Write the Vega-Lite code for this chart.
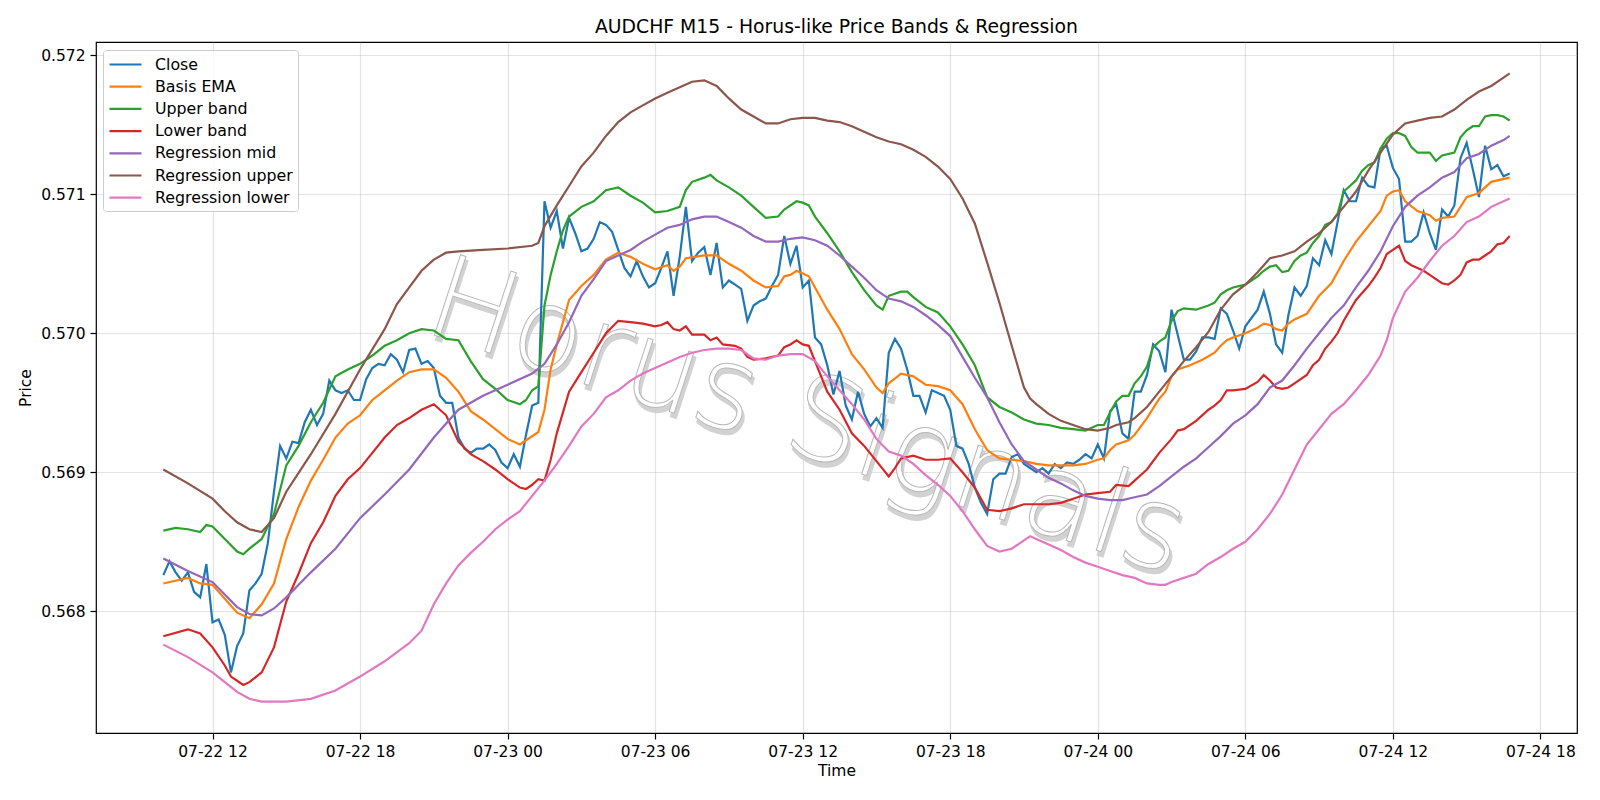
{
"$schema": "https://vega.github.io/schema/vega-lite/v6.json",
"width": 1481, "height": 691,
"autosize": {"type": "none"},
"padding": {"left": 96, "top": 42, "right": 23, "bottom": 67},
"background": "white",
"title": {"text": "AUDCHF M15 - Horus-like Price Bands & Regression", "fontSize": 18.8, "fontWeight": "normal", "font": "DejaVu Sans", "color": "black", "offset": 5},
"config": {
 "font": "DejaVu Sans",
 "view": {"stroke": "black", "strokeWidth": 1.2},
 "axis": {"domain": false, "labelFont": "DejaVu Sans", "labelFontSize": 15.5, "labelColor": "black", "titleFont": "DejaVu Sans", "titleFontSize": 15.5, "titleFontWeight": "normal", "titleColor": "black", "tickColor": "black", "tickSize": 6, "tickWidth": 1.2, "labelPadding": 5, "gridColor": "#b0b0b0", "gridOpacity": 0.35, "gridWidth": 1.2},
 "legend": {"labelFont": "DejaVu Sans", "labelFontSize": 15.8, "labelColor": "black"}
},
"encoding": {
 "x": {"field": "t", "type": "temporal", "title": "Time",
  "scale": {"domain": [{"year": 2025, "month": 7, "date": 22, "hours": 7, "minutes": 15, "seconds": 45}, {"year": 2025, "month": 7, "date": 24, "hours": 19, "minutes": 29, "seconds": 15}]},
  "axis": {"format": "%m-%d %H", "values": [
   {"year": 2025, "month": 7, "date": 22, "hours": 12}, {"year": 2025, "month": 7, "date": 22, "hours": 18},
   {"year": 2025, "month": 7, "date": 23, "hours": 0}, {"year": 2025, "month": 7, "date": 23, "hours": 6},
   {"year": 2025, "month": 7, "date": 23, "hours": 12}, {"year": 2025, "month": 7, "date": 23, "hours": 18},
   {"year": 2025, "month": 7, "date": 24, "hours": 0}, {"year": 2025, "month": 7, "date": 24, "hours": 6},
   {"year": 2025, "month": 7, "date": 24, "hours": 12}, {"year": 2025, "month": 7, "date": 24, "hours": 18}],
   "labelAngle": 0, "labelFlush": false, "labelOverlap": false, "titlePadding": 4}},
 "y": {"field": "v", "type": "quantitative", "title": "Price",
  "scale": {"domain": [0.567124, 0.572096], "zero": false, "nice": false},
  "axis": {"values": [0.568, 0.569, 0.570, 0.571, 0.572], "format": ".3f", "titlePadding": 7}}
},
"layer": [
 {"data": {"values": [{"t": "2025-07-23T12:11", "v": 0.56938, "s": "Horus Signals"}]},
  "mark": {"type": "text", "angle": 18, "fontSize": 116, "font": "DejaVu Sans", "fontWeight": 200, "fill": "#d2d2d2", "stroke": "#d2d2d2", "strokeWidth": 2, "dx": 3, "dy": 4, "align": "center", "baseline": "middle"},
  "encoding": {"text": {"field": "s"}}},
 {"data": {"values": [{"t": "2025-07-23T12:11", "v": 0.56938, "s": "Horus Signals"}]},
  "mark": {"type": "text", "angle": 18, "fontSize": 116, "font": "DejaVu Sans", "fontWeight": 200, "fill": "white", "stroke": "#b8b8b8", "strokeWidth": 1, "align": "center", "baseline": "middle"},
  "encoding": {"text": {"field": "s"}}},
 {"data": {"values": [
{"t":"2025-07-22T10:00","close":0.56826,"ema":0.56820,"up":0.56858,"low":0.56782,"rmid":0.56838,"rup":0.56902,"rlow":0.56776},
{"t":"2025-07-22T10:15","close":0.56836},
{"t":"2025-07-22T10:30","close":0.56828,"up":0.56860},
{"t":"2025-07-22T10:45","close":0.56822},
{"t":"2025-07-22T11:00","close":0.56828,"ema":0.56824,"up":0.56859,"low":0.56787,"rmid":0.56829,"rup":0.56892,"rlow":0.56767},
{"t":"2025-07-22T11:15","close":0.56814},
{"t":"2025-07-22T11:30","close":0.56810,"ema":0.56820,"up":0.56857,"low":0.56784},
{"t":"2025-07-22T11:45","close":0.56834,"up":0.56862},
{"t":"2025-07-22T12:00","close":0.56792,"ema":0.56819,"up":0.56861,"low":0.56774,"rmid":0.56821,"rup":0.56881,"rlow":0.56756},
{"t":"2025-07-22T12:15","close":0.56794},
{"t":"2025-07-22T12:30","close":0.56783,"ema":0.56809,"up":0.56852,"low":0.56761,"rmid":0.56812,"rup":0.56872,"rlow":0.56749},
{"t":"2025-07-22T12:45","close":0.56756,"low":0.56753},
{"t":"2025-07-22T13:00","close":0.56775,"ema":0.56799,"up":0.56843,"low":0.56750,"rmid":0.56803,"rup":0.56864,"rlow":0.56742},
{"t":"2025-07-22T13:15","close":0.56784,"up":0.56841,"low":0.56747},
{"t":"2025-07-22T13:30","close":0.56815,"ema":0.56795,"up":0.56845,"low":0.56749,"rmid":0.56798,"rup":0.56859,"rlow":0.56737},
{"t":"2025-07-22T13:45","close":0.56820},
{"t":"2025-07-22T14:00","close":0.56827,"ema":0.56805,"up":0.56852,"low":0.56756,"rmid":0.56797,"rup":0.56857,"rlow":0.56735},
{"t":"2025-07-22T14:15","close":0.56849},
{"t":"2025-07-22T14:30","close":0.56886,"ema":0.56820,"up":0.56870,"low":0.56774,"rmid":0.56802,"rup":0.56867},
{"t":"2025-07-22T14:45","close":0.56919},
{"t":"2025-07-22T15:00","close":0.56910,"ema":0.56852,"up":0.56905,"low":0.56807,"rmid":0.56810,"rup":0.56886,"rlow":0.56735},
{"t":"2025-07-22T15:15","close":0.56922},
{"t":"2025-07-22T15:30","close":0.56921,"ema":0.56875,"up":0.56919,"low":0.56827},
{"t":"2025-07-22T15:45","close":0.56936},
{"t":"2025-07-22T16:00","close":0.56945,"ema":0.56894,"up":0.56936,"low":0.56849,"rmid":0.56828,"rup":0.56913,"rlow":0.56737},
{"t":"2025-07-22T16:15","close":0.56934},
{"t":"2025-07-22T16:30","close":0.56942,"ema":0.56909,"up":0.56950,"low":0.56864},
{"t":"2025-07-22T16:45","close":0.56966},
{"t":"2025-07-22T17:00","close":0.56959,"ema":0.56925,"up":0.56969,"low":0.56883,"rmid":0.56845,"rup":0.56942,"rlow":0.56743},
{"t":"2025-07-22T17:15","close":0.56957},
{"t":"2025-07-22T17:30","close":0.56959,"ema":0.56935,"up":0.56974,"low":0.56895},
{"t":"2025-07-22T17:45","close":0.56952},
{"t":"2025-07-22T18:00","close":0.56952,"ema":0.56941,"up":0.56978,"low":0.56903,"rmid":0.56867,"rup":0.56974,"rlow":0.56753},
{"t":"2025-07-22T18:15","close":0.56967},
{"t":"2025-07-22T18:30","close":0.56975,"ema":0.56952,"up":0.56984,"low":0.56914},
{"t":"2025-07-22T18:45","close":0.56978},
{"t":"2025-07-22T19:00","close":0.56977,"ema":0.56959,"up":0.56991,"low":0.56925,"rmid":0.56884,"rup":0.57003,"rlow":0.56764},
{"t":"2025-07-22T19:15","close":0.56985},
{"t":"2025-07-22T19:30","close":0.56981,"ema":0.56966,"up":0.56995,"low":0.56934,"rup":0.57021},
{"t":"2025-07-22T19:45","close":0.56972},
{"t":"2025-07-22T20:00","close":0.56988,"ema":0.56972,"up":0.57000,"low":0.56939,"rmid":0.56902,"rup":0.57033,"rlow":0.56777},
{"t":"2025-07-22T20:15","close":0.56989},
{"t":"2025-07-22T20:30","close":0.56978,"ema":0.56974,"up":0.57003,"low":0.56945,"rup":0.57045,"rlow":0.56786},
{"t":"2025-07-22T20:45","close":0.56980},
{"t":"2025-07-22T21:00","close":0.56975,"ema":0.56974,"up":0.57002,"low":0.56949,"rmid":0.56925,"rup":0.57053,"rlow":0.56805},
{"t":"2025-07-22T21:15","close":0.56955},
{"t":"2025-07-22T21:30","close":0.56950,"ema":0.56968,"up":0.56996,"low":0.56941,"rup":0.57058,"rlow":0.56820},
{"t":"2025-07-22T21:45","close":0.56950},
{"t":"2025-07-22T22:00","close":0.56925,"ema":0.56958,"up":0.56995,"low":0.56922,"rmid":0.56945,"rup":0.57059,"rlow":0.56833},
{"t":"2025-07-22T22:15","close":0.56917},
{"t":"2025-07-22T22:30","close":0.56914,"ema":0.56944,"up":0.56980,"low":0.56913,"rlow":0.56842},
{"t":"2025-07-22T22:45","close":0.56917},
{"t":"2025-07-22T23:00","close":0.56917,"ema":0.56938,"up":0.56967,"low":0.56908,"rmid":0.56955,"rup":0.57060,"rlow":0.56850},
{"t":"2025-07-22T23:15","close":0.56920},
{"t":"2025-07-22T23:30","close":0.56916,"ema":0.56931,"up":0.56960,"low":0.56902,"rlow":0.56859},
{"t":"2025-07-22T23:45","close":0.56907},
{"t":"2025-07-23T00:00","close":0.56903,"ema":0.56924,"up":0.56952,"low":0.56895,"rmid":0.56963,"rup":0.57061,"rlow":0.56866},
{"t":"2025-07-23T00:15","close":0.56913},
{"t":"2025-07-23T00:30","close":0.56904,"ema":0.56920,"up":0.56949,"low":0.56889,"rlow":0.56872},
{"t":"2025-07-23T00:45","close":0.56927,"up":0.56952,"low":0.56888},
{"t":"2025-07-23T01:00","close":0.56948,"up":0.56959,"low":0.56891,"rmid":0.56971,"rup":0.57063,"rlow":0.56883},
{"t":"2025-07-23T01:15","close":0.56950,"ema":0.56929,"up":0.56962,"low":0.56895,"rup":0.57065},
{"t":"2025-07-23T01:30","close":0.57095,"ema":0.56945,"up":0.57020,"low":0.56894,"rmid":0.56978,"rup":0.57077,"rlow":0.56894},
{"t":"2025-07-23T01:45","close":0.57076,"ema":0.56974,"up":0.57042,"low":0.56909},
{"t":"2025-07-23T02:00","close":0.57088,"ema":0.56992,"up":0.57059,"low":0.56928,"rmid":0.56992,"rup":0.57092,"rlow":0.56906},
{"t":"2025-07-23T02:15","close":0.57061,"ema":0.57008,"up":0.57074},
{"t":"2025-07-23T02:30","close":0.57083,"ema":0.57024,"up":0.57084,"low":0.56958,"rmid":0.57008,"rup":0.57106,"rlow":0.56919},
{"t":"2025-07-23T02:45","close":0.57072},
{"t":"2025-07-23T03:00","close":0.57059,"ema":0.57034,"up":0.57091,"low":0.56972,"rmid":0.57027,"rup":0.57120,"rlow":0.56933},
{"t":"2025-07-23T03:15","close":0.57061},
{"t":"2025-07-23T03:30","close":0.57068,"ema":0.57042,"up":0.57095,"low":0.56986,"rmid":0.57039,"rup":0.57130,"rlow":0.56942},
{"t":"2025-07-23T03:45","close":0.57080},
{"t":"2025-07-23T04:00","close":0.57078,"ema":0.57053,"up":0.57103,"low":0.57000,"rmid":0.57052,"rup":0.57142,"rlow":0.56954},
{"t":"2025-07-23T04:15","close":0.57073},
{"t":"2025-07-23T04:30","close":0.57060,"ema":0.57058,"up":0.57105,"low":0.57009,"rmid":0.57056,"rup":0.57152,"rlow":0.56959},
{"t":"2025-07-23T04:45","close":0.57047},
{"t":"2025-07-23T05:00","close":0.57041,"ema":0.57055,"up":0.57099,"low":0.57008,"rmid":0.57060,"rup":0.57159,"rlow":0.56966},
{"t":"2025-07-23T05:15","close":0.57052},
{"t":"2025-07-23T05:30","close":0.57041,"ema":0.57050,"up":0.57094,"low":0.57007,"rmid":0.57066,"rup":0.57164,"rlow":0.56971},
{"t":"2025-07-23T05:45","close":0.57033},
{"t":"2025-07-23T06:00","close":0.57036,"ema":0.57046,"up":0.57087,"low":0.57005,"rmid":0.57071,"rup":0.57169,"rlow":0.56975},
{"t":"2025-07-23T06:15","close":0.57047,"low":0.57006},
{"t":"2025-07-23T06:30","close":0.57059,"ema":0.57049,"up":0.57088,"low":0.57008,"rmid":0.57076,"rup":0.57173,"rlow":0.56979},
{"t":"2025-07-23T06:45","close":0.57027,"ema":0.57045,"low":0.57003},
{"t":"2025-07-23T07:00","close":0.57055,"ema":0.57048,"up":0.57091,"low":0.57002,"rmid":0.57078,"rup":0.57177,"rlow":0.56983},
{"t":"2025-07-23T07:15","close":0.57091,"ema":0.57054,"up":0.57103,"low":0.57005},
{"t":"2025-07-23T07:30","close":0.57052,"up":0.57109,"low":0.56999,"rmid":0.57082,"rup":0.57181,"rlow":0.56986},
{"t":"2025-07-23T07:45","close":0.57058},
{"t":"2025-07-23T08:00","close":0.57062,"ema":0.57056,"up":0.57112,"low":0.56999,"rmid":0.57084,"rup":0.57182,"rlow":0.56988},
{"t":"2025-07-23T08:15","close":0.57042,"up":0.57114,"low":0.56995},
{"t":"2025-07-23T08:30","close":0.57065,"ema":0.57056,"up":0.57110,"low":0.56997,"rmid":0.57084,"rup":0.57178,"rlow":0.56989},
{"t":"2025-07-23T08:45","close":0.57033,"low":0.56992},
{"t":"2025-07-23T09:00","close":0.57038,"ema":0.57050,"up":0.57105,"rmid":0.57080,"rup":0.57169,"rlow":0.56989},
{"t":"2025-07-23T09:15","close":0.57035,"low":0.56991},
{"t":"2025-07-23T09:30","close":0.57032,"ema":0.57045,"up":0.57099,"low":0.56989,"rmid":0.57076,"rup":0.57161,"rlow":0.56988},
{"t":"2025-07-23T09:45","close":0.57009,"low":0.56983},
{"t":"2025-07-23T10:00","close":0.57020,"ema":0.57038,"up":0.57091,"low":0.56981,"rmid":0.57070,"rup":0.57156,"rlow":0.56982},
{"t":"2025-07-23T10:15","close":0.57023},
{"t":"2025-07-23T10:30","close":0.57025,"ema":0.57033,"up":0.57083,"low":0.56982,"rmid":0.57066,"rup":0.57151,"rlow":0.56981},
{"t":"2025-07-23T10:45","close":0.57034},
{"t":"2025-07-23T11:00","close":0.57042,"ema":0.57034,"up":0.57084,"low":0.56984,"rmid":0.57066,"rup":0.57151,"rlow":0.56984},
{"t":"2025-07-23T11:15","close":0.57070,"ema":0.57041,"up":0.57089,"low":0.56990},
{"t":"2025-07-23T11:30","close":0.57050,"ema":0.57042,"low":0.56992,"rmid":0.57068,"rup":0.57154,"rlow":0.56985},
{"t":"2025-07-23T11:45","close":0.57063,"ema":0.57045,"up":0.57095,"low":0.56995},
{"t":"2025-07-23T12:00","close":0.57033,"ema":0.57043,"up":0.57094,"low":0.56992,"rmid":0.57069,"rup":0.57155,"rlow":0.56985},
{"t":"2025-07-23T12:15","close":0.57038,"ema":0.57041,"up":0.57092,"low":0.56991},
{"t":"2025-07-23T12:30","close":0.56997,"ema":0.57033,"up":0.57084,"low":0.56980,"rmid":0.57067,"rup":0.57155,"rlow":0.56980},
{"t":"2025-07-23T12:45","close":0.56992},
{"t":"2025-07-23T13:00","close":0.56977,"ema":0.57017,"up":0.57072,"low":0.56958,"rmid":0.57063,"rup":0.57153,"rlow":0.56969},
{"t":"2025-07-23T13:15","close":0.56956},
{"t":"2025-07-23T13:30","close":0.56973,"ema":0.57003,"up":0.57059,"low":0.56945,"rmid":0.57056,"rup":0.57152,"rlow":0.56959},
{"t":"2025-07-23T13:45","close":0.56948},
{"t":"2025-07-23T14:00","close":0.56938,"ema":0.56985,"up":0.57044,"low":0.56928,"rmid":0.57048,"rup":0.57149,"rlow":0.56949},
{"t":"2025-07-23T14:15","close":0.56958},
{"t":"2025-07-23T14:30","close":0.56942,"ema":0.56974,"up":0.57031,"low":0.56919,"rmid":0.57040,"rup":0.57145,"rlow":0.56938},
{"t":"2025-07-23T14:45","close":0.56933},
{"t":"2025-07-23T15:00","close":0.56939,"ema":0.56961,"up":0.57020,"low":0.56908,"rmid":0.57031,"rup":0.57141,"rlow":0.56924},
{"t":"2025-07-23T15:15","close":0.56932,"ema":0.56957,"up":0.57017},
{"t":"2025-07-23T15:30","close":0.56986,"ema":0.56964,"up":0.57027,"low":0.56897,"rmid":0.57025,"rup":0.57138,"rlow":0.56915},
{"t":"2025-07-23T15:45","close":0.56996,"low":0.56903},
{"t":"2025-07-23T16:00","close":0.56989,"ema":0.56971,"up":0.57030,"low":0.56910,"rmid":0.57023,"rup":0.57136,"rlow":0.56912},
{"t":"2025-07-23T16:15","close":0.56974,"up":0.57030},
{"t":"2025-07-23T16:30","close":0.56955,"ema":0.56969,"up":0.57026,"low":0.56912,"rmid":0.57019,"rup":0.57132,"rlow":0.56906},
{"t":"2025-07-23T16:45","close":0.56955},
{"t":"2025-07-23T17:00","close":0.56943,"ema":0.56963,"up":0.57019,"low":0.56909,"rmid":0.57013,"rup":0.57127,"rlow":0.56898},
{"t":"2025-07-23T17:15","close":0.56959},
{"t":"2025-07-23T17:30","close":0.56957,"ema":0.56962,"up":0.57015,"low":0.56909,"rmid":0.57006,"rup":0.57120,"rlow":0.56891},
{"t":"2025-07-23T17:45","close":0.56955},
{"t":"2025-07-23T18:00","close":0.56945,"ema":0.56959,"up":0.57005,"low":0.56910,"rmid":0.56998,"rup":0.57111,"rlow":0.56883},
{"t":"2025-07-23T18:15","close":0.56919},
{"t":"2025-07-23T18:30","close":0.56917,"ema":0.56949,"up":0.56992,"low":0.56900,"rmid":0.56983,"rup":0.57097,"rlow":0.56872},
{"t":"2025-07-23T18:45","close":0.56906},
{"t":"2025-07-23T19:00","close":0.56889,"ema":0.56931,"up":0.56977,"low":0.56889,"rmid":0.56968,"rup":0.57079,"rlow":0.56859},
{"t":"2025-07-23T19:15","close":0.56878},
{"t":"2025-07-23T19:30","close":0.56870,"ema":0.56916,"up":0.56954,"low":0.56873,"rmid":0.56954,"rup":0.57051,"rlow":0.56847},
{"t":"2025-07-23T19:45","close":0.56895},
{"t":"2025-07-23T20:00","close":0.56899,"ema":0.56910,"up":0.56947,"low":0.56872,"rmid":0.56936,"rup":0.57022,"rlow":0.56843},
{"t":"2025-07-23T20:15","close":0.56899},
{"t":"2025-07-23T20:30","close":0.56911,"ema":0.56909,"up":0.56943,"low":0.56874,"rmid":0.56920,"rup":0.56991,"rlow":0.56845},
{"t":"2025-07-23T20:45","close":0.56913},
{"t":"2025-07-23T21:00","close":0.56906,"ema":0.56908,"up":0.56938,"low":0.56877,"rmid":0.56908,"rup":0.56961,"rlow":0.56851},
{"t":"2025-07-23T21:15","close":0.56903,"rup":0.56953,"rlow":0.56854},
{"t":"2025-07-23T21:30","close":0.56900,"ema":0.56906,"up":0.56935,"low":0.56877,"rmid":0.56902,"rup":0.56949,"rlow":0.56852},
{"t":"2025-07-23T21:45","close":0.56903},
{"t":"2025-07-23T22:00","close":0.56899,"ema":0.56905,"up":0.56934,"low":0.56877,"rmid":0.56896,"rup":0.56942,"rlow":0.56848},
{"t":"2025-07-23T22:15","close":0.56906},
{"t":"2025-07-23T22:30","close":0.56903,"ema":0.56905,"up":0.56932,"low":0.56878,"rmid":0.56892,"rup":0.56937,"rlow":0.56844},
{"t":"2025-07-23T22:45","close":0.56907},
{"t":"2025-07-23T23:00","close":0.56906,"ema":0.56905,"up":0.56931,"low":0.56881,"rmid":0.56887,"rup":0.56934,"rlow":0.56839},
{"t":"2025-07-23T23:15","close":0.56909},
{"t":"2025-07-23T23:30","close":0.56913,"ema":0.56906,"up":0.56930,"low":0.56884,"rmid":0.56883,"rup":0.56931,"rlow":0.56835},
{"t":"2025-07-23T23:45","close":0.56910},
{"t":"2025-07-24T00:00","close":0.56920,"ema":0.56909,"up":0.56934,"low":0.56885,"rmid":0.56881,"rup":0.56930,"rlow":0.56832},
{"t":"2025-07-24T00:15","close":0.56910,"ema":0.56910,"up":0.56934},
{"t":"2025-07-24T00:30","close":0.56944,"ema":0.56916,"up":0.56943,"low":0.56886,"rmid":0.56880,"rup":0.56932,"rlow":0.56829},
{"t":"2025-07-24T00:45","close":0.56949,"ema":0.56920,"up":0.56951,"low":0.56891,"rup":0.56934},
{"t":"2025-07-24T01:00","close":0.56928,"up":0.56955,"rmid":0.56880,"rlow":0.56826},
{"t":"2025-07-24T01:15","close":0.56924,"ema":0.56923,"up":0.56955,"low":0.56890,"rup":0.56936},
{"t":"2025-07-24T01:30","close":0.56958,"ema":0.56927,"up":0.56964,"low":0.56894,"rmid":0.56882,"rup":0.56939,"rlow":0.56824},
{"t":"2025-07-24T01:45","close":0.56958,"up":0.56969,"low":0.56898},
{"t":"2025-07-24T02:00","close":0.56970,"ema":0.56939,"up":0.56976,"low":0.56902,"rmid":0.56884,"rup":0.56947,"rlow":0.56820},
{"t":"2025-07-24T02:15","close":0.56992,"up":0.56990},
{"t":"2025-07-24T02:30","close":0.56987,"ema":0.56953,"up":0.56994,"low":0.56914,"rmid":0.56890,"rup":0.56958,"rlow":0.56819},
{"t":"2025-07-24T02:45","close":0.56972,"ema":0.56958,"up":0.56997,"low":0.56919,"rlow":0.56819},
{"t":"2025-07-24T03:00","close":0.57017,"ema":0.56969,"up":0.57009,"low":0.56924,"rmid":0.56897,"rup":0.56969,"rlow":0.56821},
{"t":"2025-07-24T03:15","close":0.56999,"ema":0.56974,"up":0.57016,"low":0.56930},
{"t":"2025-07-24T03:30","close":0.56981,"up":0.57018,"low":0.56931,"rmid":0.56904,"rup":0.56980,"rlow":0.56824},
{"t":"2025-07-24T03:45","close":0.56981,"ema":0.56977},
{"t":"2025-07-24T04:00","close":0.56987,"up":0.57017,"low":0.56937,"rmid":0.56910,"rup":0.56990,"rlow":0.56827},
{"t":"2025-07-24T04:15","close":0.56997,"ema":0.56981},
{"t":"2025-07-24T04:30","close":0.56997,"up":0.57020,"low":0.56945,"rmid":0.56918,"rup":0.57001,"rlow":0.56834},
{"t":"2025-07-24T04:45","close":0.56996,"ema":0.56986,"up":0.57022,"low":0.56948},
{"t":"2025-07-24T05:00","close":0.57018,"ema":0.56991,"up":0.57028,"low":0.56952,"rmid":0.56926,"rup":0.57017,"rlow":0.56839},
{"t":"2025-07-24T05:15","close":0.57014,"ema":0.56995,"up":0.57031,"low":0.56959},
{"t":"2025-07-24T05:30","close":0.57002,"ema":0.56997,"up":0.57033,"low":0.56959,"rmid":0.56935,"rup":0.57028,"rlow":0.56845},
{"t":"2025-07-24T05:45","close":0.56989},
{"t":"2025-07-24T06:00","close":0.57005,"ema":0.57000,"up":0.57035,"low":0.56960,"rmid":0.56941,"rup":0.57035,"rlow":0.56850},
{"t":"2025-07-24T06:15","close":0.57011},
{"t":"2025-07-24T06:30","close":0.57017,"ema":0.57004,"up":0.57041,"low":0.56965,"rmid":0.56949,"rup":0.57044,"rlow":0.56859},
{"t":"2025-07-24T06:45","close":0.57030,"ema":0.57007,"up":0.57045,"low":0.56970},
{"t":"2025-07-24T07:00","close":0.57014,"ema":0.57006,"up":0.57048,"low":0.56966,"rmid":0.56961,"rup":0.57054,"rlow":0.56870},
{"t":"2025-07-24T07:15","close":0.56992,"ema":0.57003,"up":0.57049,"low":0.56961},
{"t":"2025-07-24T07:30","close":0.56986,"ema":0.57002,"up":0.57044,"low":0.56960,"rmid":0.56966,"rup":0.57056,"rlow":0.56884},
{"t":"2025-07-24T07:45","close":0.57013,"ema":0.57007,"up":0.57045,"low":0.56961},
{"t":"2025-07-24T08:00","close":0.57033,"ema":0.57010,"up":0.57052,"low":0.56964,"rmid":0.56977,"rup":0.57059,"rlow":0.56902},
{"t":"2025-07-24T08:15","close":0.57027,"up":0.57056,"low":0.56967},
{"t":"2025-07-24T08:30","close":0.57034,"ema":0.57014,"up":0.57058,"low":0.56970,"rmid":0.56989,"rup":0.57066,"rlow":0.56920},
{"t":"2025-07-24T08:45","close":0.57054,"up":0.57065,"low":0.56977},
{"t":"2025-07-24T09:00","close":0.57049,"ema":0.57027,"up":0.57070,"low":0.56981,"rmid":0.57000,"rup":0.57072,"rlow":0.56931},
{"t":"2025-07-24T09:15","close":0.57067,"up":0.57078,"low":0.56989},
{"t":"2025-07-24T09:30","close":0.57057,"ema":0.57036,"up":0.57080,"low":0.56994,"rmid":0.57011,"rup":0.57080,"rlow":0.56942},
{"t":"2025-07-24T09:45","close":0.57080,"up":0.57086,"low":0.57000},
{"t":"2025-07-24T10:00","close":0.57103,"ema":0.57052,"up":0.57102,"low":0.57009,"rmid":0.57020,"rup":0.57091,"rlow":0.56949},
{"t":"2025-07-24T10:15","close":0.57095,"up":0.57106},
{"t":"2025-07-24T10:30","close":0.57095,"ema":0.57066,"up":0.57110,"low":0.57024,"rmid":0.57033,"rup":0.57102,"rlow":0.56959},
{"t":"2025-07-24T10:45","close":0.57112,"up":0.57117},
{"t":"2025-07-24T11:00","close":0.57106,"ema":0.57077,"up":0.57121,"low":0.57034,"rmid":0.57045,"rup":0.57117,"rlow":0.56970},
{"t":"2025-07-24T11:15","close":0.57105,"up":0.57123,"low":0.57040},
{"t":"2025-07-24T11:30","close":0.57133,"ema":0.57088,"up":0.57133,"low":0.57047,"rmid":0.57059,"rup":0.57130,"rlow":0.56984},
{"t":"2025-07-24T11:45","close":0.57135,"ema":0.57099,"up":0.57140,"low":0.57057,"rlow":0.56995},
{"t":"2025-07-24T12:00","close":0.57119,"ema":0.57102,"up":0.57144,"low":0.57060,"rmid":0.57077,"rup":0.57143,"rlow":0.57011},
{"t":"2025-07-24T12:15","close":0.57111,"ema":0.57103,"up":0.57144,"low":0.57063},
{"t":"2025-07-24T12:30","close":0.57066,"ema":0.57095,"up":0.57142,"low":0.57052,"rmid":0.57091,"rup":0.57151,"rlow":0.57030},
{"t":"2025-07-24T12:45","close":0.57066,"up":0.57134,"low":0.57049},
{"t":"2025-07-24T13:00","close":0.57070,"ema":0.57088,"up":0.57130,"low":0.57047,"rmid":0.57099,"rup":0.57153,"rlow":0.57040},
{"t":"2025-07-24T13:15","close":0.57087,"low":0.57045},
{"t":"2025-07-24T13:30","close":0.57072,"ema":0.57085,"up":0.57130,"low":0.57042,"rmid":0.57105,"rup":0.57155,"rlow":0.57052},
{"t":"2025-07-24T13:45","close":0.57060,"ema":0.57081,"up":0.57124,"low":0.57039},
{"t":"2025-07-24T14:00","close":0.57089,"ema":0.57083,"up":0.57128,"low":0.57036,"rmid":0.57112,"rup":0.57156,"rlow":0.57063},
{"t":"2025-07-24T14:15","close":0.57084,"low":0.57035},
{"t":"2025-07-24T14:30","close":0.57092,"ema":0.57084,"up":0.57130,"low":0.57038,"rmid":0.57116,"rup":0.57161,"rlow":0.57070},
{"t":"2025-07-24T14:45","close":0.57126,"up":0.57141,"low":0.57042,"rmid":0.57121},
{"t":"2025-07-24T15:00","close":0.57137,"ema":0.57098,"up":0.57146,"low":0.57051,"rmid":0.57126,"rup":0.57168,"rlow":0.57080},
{"t":"2025-07-24T15:15","close":0.57118,"up":0.57149,"low":0.57053},
{"t":"2025-07-24T15:30","close":0.57098,"ema":0.57101,"up":0.57149,"low":0.57053,"rmid":0.57129,"rup":0.57174,"rlow":0.57084},
{"t":"2025-07-24T15:45","close":0.57135,"up":0.57156,"low":0.57056},
{"t":"2025-07-24T16:00","close":0.57118,"ema":0.57109,"up":0.57157,"low":0.57059,"rmid":0.57135,"rup":0.57178,"rlow":0.57091},
{"t":"2025-07-24T16:15","close":0.57121,"up":0.57157,"low":0.57064},
{"t":"2025-07-24T16:30","close":0.57113,"up":0.57156,"low":0.57065,"rmid":0.57139,"rup":0.57184,"rlow":0.57095},
{"t":"2025-07-24T16:45","close":0.57115,"ema":0.57112,"up":0.57153,"low":0.57070,"rmid":0.57142,"rup":0.57187,"rlow":0.57097}
 ]},
  "transform": [
   {"fold": ["close", "ema", "up", "low", "rmid", "rup", "rlow"], "as": ["k", "v"]},
   {"filter": "isValid(datum.v)"}
  ],
  "mark": {"type": "line", "strokeWidth": 2.2},
  "encoding": {
   "color": {"field": "k", "type": "nominal",
    "scale": {"domain": ["close", "ema", "up", "low", "rmid", "rup", "rlow"], "range": ["#1f77b4", "#ff7f0e", "#2ca02c", "#d62728", "#9467bd", "#8c564b", "#e377c2"]},
    "legend": {"title": null, "orient": "none", "legendX": 7, "legendY": 8, "symbolType": "M-1,0H3", "symbolSize": 256, "symbolStrokeWidth": 2.2, "labelOffset": 28, "rowPadding": 4.2, "padding": 5, "fillColor": "rgba(255,255,255,0.85)", "strokeColor": "#cccccc", "cornerRadius": 3,
     "labelExpr": "datum.label == 'close' ? 'Close' : datum.label == 'ema' ? 'Basis EMA' : datum.label == 'up' ? 'Upper band' : datum.label == 'low' ? 'Lower band' : datum.label == 'rmid' ? 'Regression mid' : datum.label == 'rup' ? 'Regression upper' : 'Regression lower'"}}
  }}
]
}
